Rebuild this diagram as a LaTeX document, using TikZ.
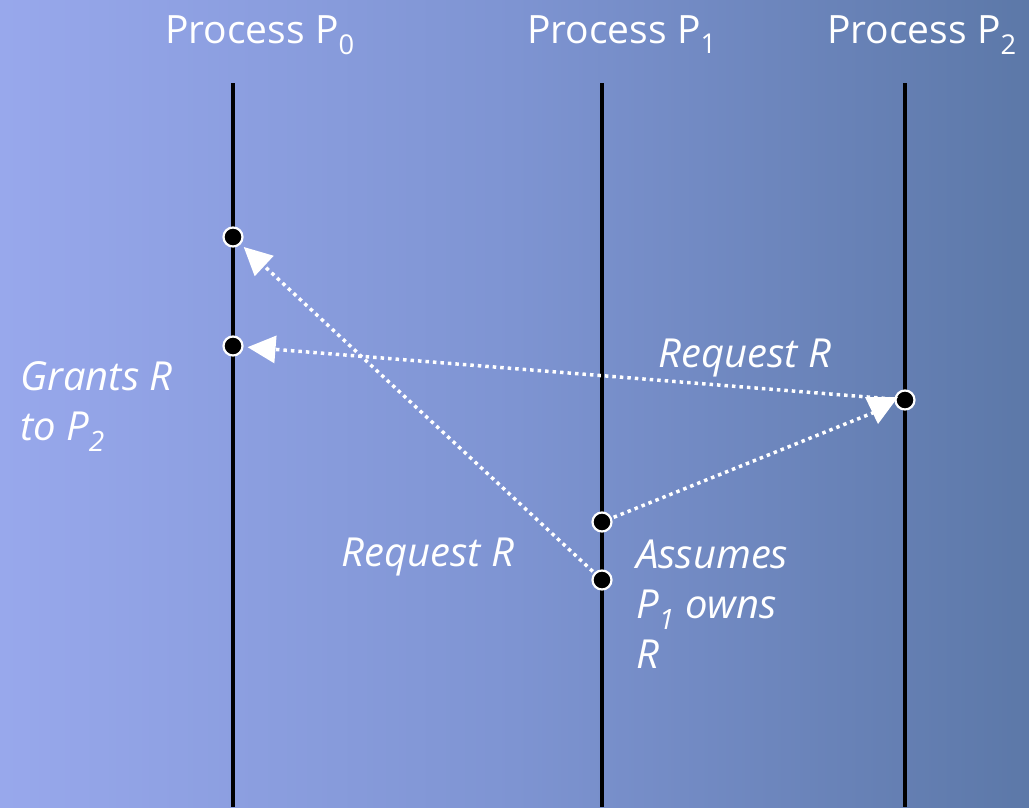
\documentclass[tikz,border=0pt]{standalone}
\usepackage{fontspec}
\setmainfont{Open Sans}
\usetikzlibrary{arrows.meta}
\definecolor{bgleft}{HTML}{98A8EC}
\definecolor{bgmid}{HTML}{7E94D2}
\definecolor{bgright}{HTML}{5C78A8}
\tikzset{
  lifeline/.style={line width=4pt, black},
  evdot/.style={circle, fill=black, draw=white, line width=2.2pt, minimum size=19pt, inner sep=0pt},
  msg/.style={white, line width=3.5pt, dash pattern=on 3.5pt off 4pt},
  msgarrow/.style={msg, -{Triangle[length=28pt,width=27pt]}},
  proclabel/.style={white, font=\fontsize{39}{44}\selectfont, anchor=base, inner sep=0pt},
  itlabel/.style={white, font=\fontsize{40}{50}\selectfont\itshape, align=left, inner sep=0pt}
}
\begin{document}
\begin{tikzpicture}[x=1pt,y=-1pt]
\useasboundingbox (0,0) rectangle (1029,807);
\shade[left color=bgleft, right color=bgright, middle color=bgmid] (0,0) rectangle (1029,807);

% process labels
\node[proclabel] (l0) at (260,43) {Process P\textsubscript{0}};
\node[proclabel] (l1) at (622,43) {Process P\textsubscript{1}};
\node[proclabel] (l2) at (922,43) {Process P\textsubscript{2}};

% lifelines
\coordinate (t0) at (233,83); \coordinate (b0) at (233,807);
\coordinate (t1) at (602,83); \coordinate (b1) at (602,807);
\coordinate (t2) at (905,83); \coordinate (b2) at (905,807);
\draw[lifeline] (t0) -- (b0);
\draw[lifeline] (t1) -- (b1);
\draw[lifeline] (t2) -- (b2);

% events
\node[evdot] (a) at (233,237) {};
\node[evdot] (b) at (233,346) {};
\node[evdot] (c) at (602,522) {};
\node[evdot] (d) at (602,580) {};
\node[evdot] (e) at (905,400) {};

% messages
\draw[msgarrow, shorten <=2pt, shorten >=4pt] (d) -- (a);
\draw[msgarrow, shorten <=2pt, shorten >=4pt] (e) -- (b);
\coordinate (ctip) at (880,410);
\draw[msg, shorten <=2pt] (c) -- (ctip);
\fill[white] (865,397) -- (898,397) -- (878,424) -- cycle;

% labels
\node[itlabel, anchor=base] (r1) at (745,367) {Request R};
\node[itlabel, anchor=base] (r2) at (428,566) {Request R};
\node[itlabel, anchor=base west] (g) at (20,440) {Grants R\\to P\textsubscript{2}};
\node[itlabel, anchor=base west] (as) at (636,668) {Assumes\\P\textsubscript{1} owns\\R};
\end{tikzpicture}
\end{document}
